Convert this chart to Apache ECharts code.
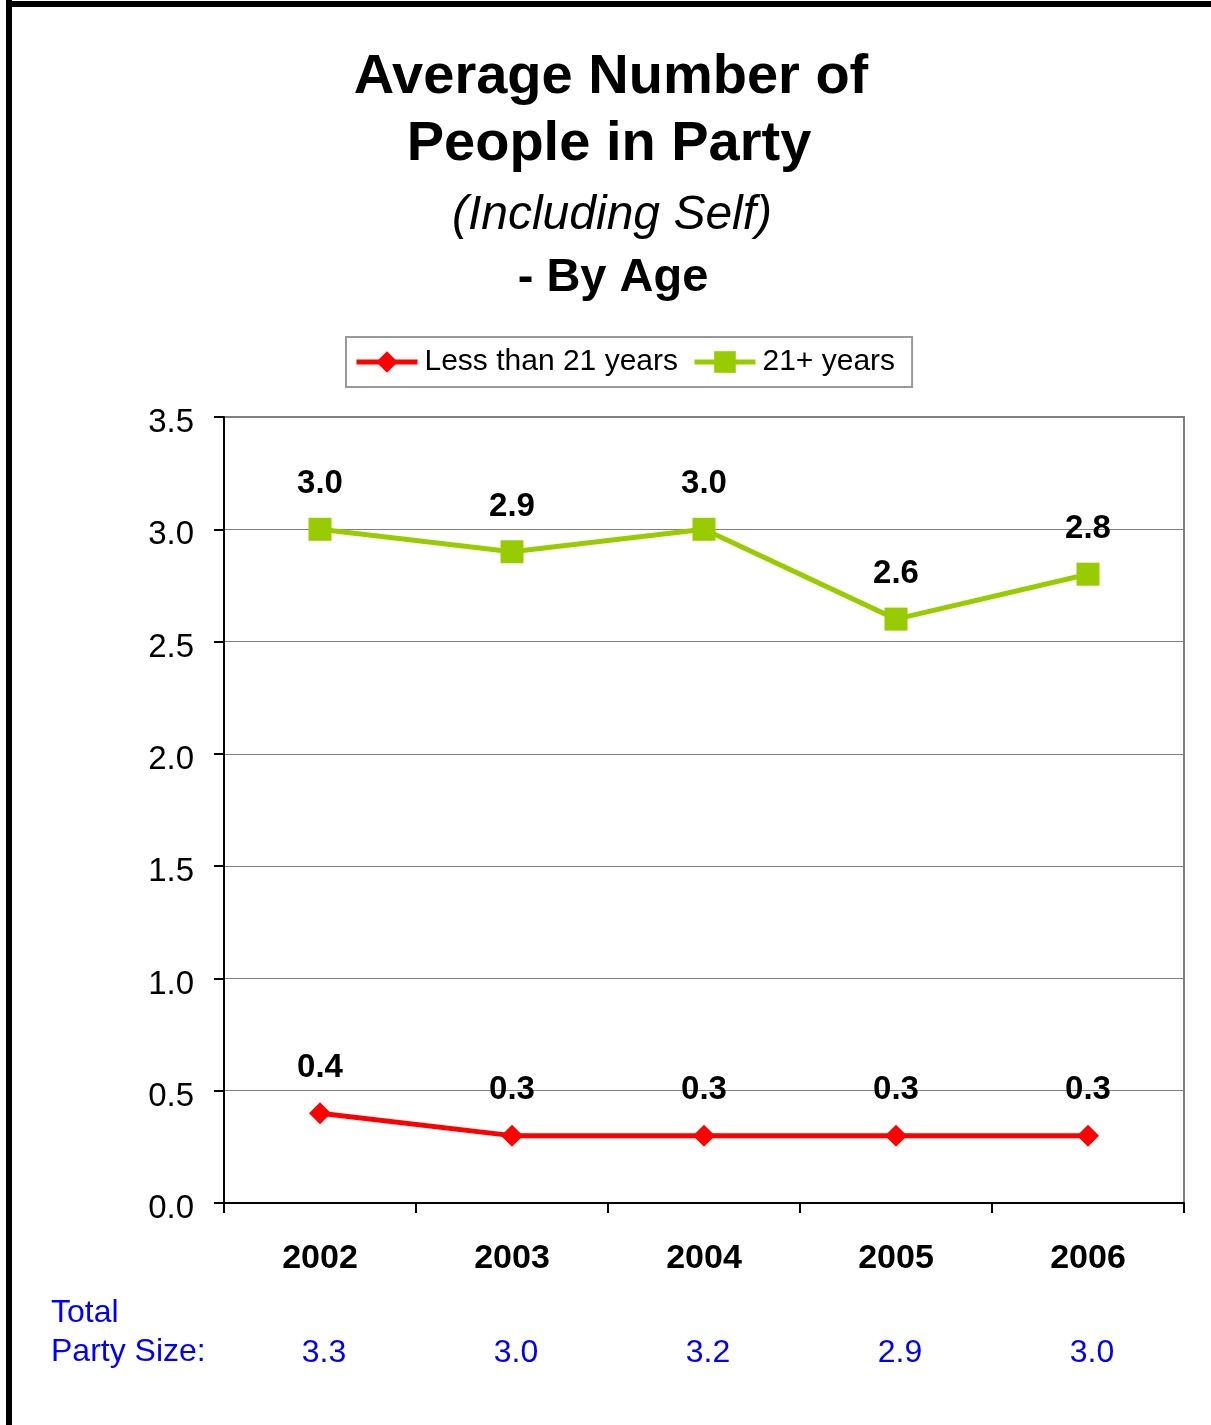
<!DOCTYPE html>
<html>
<head>
<meta charset="utf-8">
<script src="https://cdn.jsdelivr.net/npm/echarts@6/dist/echarts.min.js"></script>
<style>
  html, body { margin: 0; padding: 0; background: #fff; }
  #chart { width: 1211px; height: 1425px; }
</style>
</head>
<body>
<div id="chart"></div>
<script>
// Survey years
const years = ['2002', '2003', '2004', '2005', '2006'];
// Average people in party, by age group
const under21 = [0.4, 0.3, 0.3, 0.3, 0.3];
const over21 = [3.0, 2.9, 3.0, 2.6, 2.8];
// Total party size per year
const totalParty = [3.3, 3.0, 3.2, 2.9, 3.0];

const FONT = '"Liberation Sans", Arial, sans-serif';

const chart = echarts.init(document.getElementById('chart'));

const valueLabel = {
  show: true,
  position: 'top',
  fontFamily: FONT,
  fontSize: 33,
  fontWeight: 'bold',
  color: '#000',
  formatter: p => p.value.toFixed(1)
};

chart.setOption({
  backgroundColor: '#fff',
  animation: false,
  graphic: [
    // frame on the left and top
    { type: 'rect', shape: { x: 6, y: 0, width: 6, height: 1425 }, style: { fill: '#000' } },
    { type: 'rect', shape: { x: 6, y: 1, width: 1205, height: 6 }, style: { fill: '#000' } },
    { type: 'text', x: 611, y: 78, style: { text: 'Average Number of', textAlign: 'center', textVerticalAlign: 'middle', font: 'bold 56px ' + FONT, fill: '#000' } },
    { type: 'text', x: 609, y: 145, style: { text: 'People in Party', textAlign: 'center', textVerticalAlign: 'middle', font: 'bold 56px ' + FONT, fill: '#000' } },
    { type: 'text', x: 612, y: 216, style: { text: '(Including Self)', textAlign: 'center', textVerticalAlign: 'middle', font: 'italic 48px ' + FONT, fill: '#000' } },
    { type: 'text', x: 613, y: 278, style: { text: '- By Age', textAlign: 'center', textVerticalAlign: 'middle', font: 'bold 47px ' + FONT, fill: '#000' } },
    { type: 'text', x: 51, y: 1313, style: { text: 'Total', textAlign: 'left', textVerticalAlign: 'middle', font: '32px ' + FONT, fill: '#0000FF' } },
    { type: 'text', x: 51, y: 1352, style: { text: 'Party Size:', textAlign: 'left', textVerticalAlign: 'middle', font: '32px ' + FONT, fill: '#0000FF' } }
  ],
  legend: {
    left: 346,
    top: 337,
    orient: 'horizontal',
    padding: [10, 17, 10, 8],
    itemGap: 14,
    itemWidth: 61,
    itemHeight: 27,
    borderColor: '#999',
    borderWidth: 2,
    textStyle: { fontFamily: FONT, fontSize: 30, color: '#000', padding: [0, 0, 0, 2] },
    data: [
      { name: 'Less than 21 years', lineStyle: { width: 5 } },
      { name: '21+ years', lineStyle: { width: 5 } }
    ]
  },
  grid: {
    left: 224,
    right: 27,
    top: 417,
    bottom: 222,
    show: true,
    borderColor: '#808080',
    borderWidth: 2,
    backgroundColor: 'transparent'
  },
  xAxis: [
    {
      type: 'category',
      data: years,
      boundaryGap: true,
      axisLine: { lineStyle: { color: '#000', width: 2 } },
      axisTick: { show: true, length: 10, lineStyle: { color: '#000', width: 2 } },
      axisLabel: { margin: 39, fontFamily: FONT, fontSize: 34, fontWeight: 'bold', color: '#000' }
    },
    {
      // total party size row beneath the year labels
      type: 'category',
      position: 'bottom',
      offset: 134,
      data: totalParty.map(v => v.toFixed(1)),
      boundaryGap: true,
      axisLine: { show: false },
      axisTick: { show: false },
      axisLabel: { margin: 0, fontFamily: FONT, fontSize: 32, color: '#0000FF', padding: [0, 0, 0, 8] }
    }
  ],
  yAxis: {
    type: 'value',
    min: 0,
    max: 3.5,
    interval: 0.5,
    axisLine: { show: true, lineStyle: { color: '#000', width: 2 } },
    axisTick: { show: true, length: 10, lineStyle: { color: '#000', width: 2 } },
    axisLabel: {
      margin: 30,
      fontFamily: FONT,
      fontSize: 33,
      color: '#000',
      verticalAlign: 'top',
      lineHeight: 12,
      formatter: v => v.toFixed(1)
    },
    splitLine: { show: true, lineStyle: { color: '#808080', width: 1 } }
  },
  series: [
    {
      name: 'Less than 21 years',
      type: 'line',
      xAxisIndex: 0,
      data: under21,
      symbol: 'diamond',
      symbolSize: 22,
      lineStyle: { color: '#FF0000', width: 5 },
      itemStyle: { color: '#FF0000' },
      label: Object.assign({ distance: 18 }, valueLabel)
    },
    {
      name: '21+ years',
      type: 'line',
      xAxisIndex: 0,
      data: over21,
      symbol: 'rect',
      symbolSize: 23,
      lineStyle: { color: '#99CC00', width: 5 },
      itemStyle: { color: '#99CC00' },
      label: Object.assign({ distance: 17 }, valueLabel)
    }
  ]
});
</script>
</body>
</html>
